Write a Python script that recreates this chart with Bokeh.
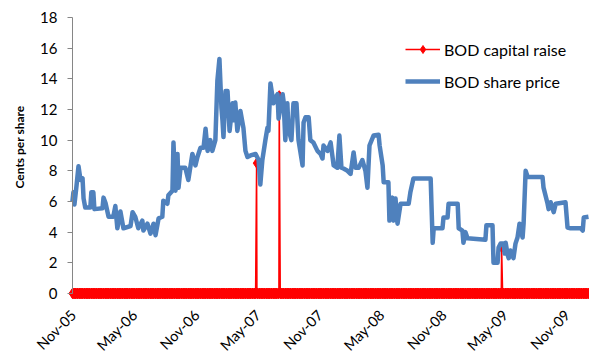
import pandas as pd
from math import pi
from bokeh.plotting import figure
from bokeh.models import Range1d, FixedTicker, Legend, LegendItem, Title, ColumnDataSource
from bokeh.core.properties import value
from bokeh.embed import file_html
from bokeh.resources import INLINE

# BOD share price (cents per share)
price_dates = [
    "2005-11-01", "2005-11-04", "2005-11-07", "2005-11-13", "2005-11-19", "2005-11-25",
    "2005-12-01", "2005-12-04", "2005-12-09", "2005-12-24", "2005-12-27", "2006-01-02",
    "2006-01-05", "2006-01-29", "2006-02-01", "2006-02-07", "2006-02-16", "2006-03-02",
    "2006-03-08", "2006-03-14", "2006-03-23", "2006-04-01", "2006-04-22", "2006-04-28",
    "2006-05-06", "2006-05-15", "2006-05-27", "2006-05-30", "2006-06-11", "2006-06-20",
    "2006-06-29", "2006-07-05", "2006-07-14", "2006-07-25", "2006-07-28", "2006-08-09",
    "2006-08-12", "2006-08-24", "2006-08-27", "2006-09-02", "2006-09-08", "2006-09-11",
    "2006-09-17", "2006-10-01", "2006-10-10", "2006-10-22", "2006-10-31", "2006-11-06",
    "2006-11-15", "2006-11-24", "2006-11-30", "2006-12-06", "2006-12-14", "2006-12-20",
    "2006-12-29", "2007-01-04", "2007-01-10", "2007-01-16", "2007-01-19", "2007-01-22",
    "2007-01-28", "2007-02-03", "2007-02-09", "2007-02-18", "2007-02-21", "2007-02-26",
    "2007-03-04", "2007-03-13", "2007-03-22", "2007-03-28", "2007-04-03", "2007-04-12",
    "2007-04-27", "2007-05-06", "2007-05-11", "2007-05-17", "2007-05-26", "2007-06-01",
    "2007-06-04", "2007-06-10", "2007-06-19", "2007-06-25", "2007-07-01", "2007-07-04",
    "2007-07-16", "2007-07-19", "2007-07-24", "2007-07-30", "2007-08-02", "2007-08-11",
    "2007-08-17", "2007-08-26", "2007-09-01", "2007-09-13", "2007-09-16", "2007-09-22",
    "2007-10-01", "2007-10-06", "2007-10-15", "2007-10-27", "2007-11-05", "2007-11-11",
    "2007-11-14", "2007-11-26", "2007-12-05", "2007-12-14", "2007-12-25", "2007-12-31",
    "2008-01-06", "2008-01-12", "2008-01-24", "2008-02-02", "2008-02-11", "2008-02-17",
    "2008-02-26", "2008-03-08", "2008-03-17", "2008-03-23", "2008-03-29", "2008-04-10",
    "2008-04-25", "2008-04-28", "2008-05-07", "2008-05-10", "2008-05-24", "2008-05-27",
    "2008-06-05", "2008-06-08", "2008-06-14", "2008-06-20", "2008-06-29", "2008-07-23",
    "2008-07-28", "2008-08-06", "2008-09-26", "2008-10-02", "2008-10-05", "2008-10-31",
    "2008-11-03", "2008-11-15", "2008-11-18", "2008-12-15", "2008-12-18", "2008-12-29",
    "2009-01-01", "2009-01-07", "2009-01-13", "2009-03-07", "2009-03-10", "2009-03-28",
    "2009-03-31", "2009-04-12", "2009-04-15", "2009-04-21", "2009-04-30", "2009-05-03",
    "2009-05-06", "2009-05-12", "2009-05-15", "2009-05-20", "2009-05-29", "2009-06-04",
    "2009-06-10", "2009-06-16", "2009-06-25", "2009-06-28", "2009-07-04", "2009-07-10",
    "2009-08-23", "2009-08-26", "2009-09-07", "2009-09-10", "2009-09-16", "2009-09-25",
    "2009-10-01", "2009-10-30", "2009-11-05", "2009-11-14", "2009-12-14", "2009-12-20",
    "2009-12-23", "2010-01-06",
]
price_values = [
    6.0, 6.6, 5.8, 7.0, 8.3, 7.4,
    7.5, 6.2, 5.6, 5.6, 6.6, 6.6,
    5.5, 5.55, 6.25, 5.9, 5.0, 5.0,
    5.7, 4.25, 5.35, 4.25, 4.4, 5.3,
    5.0, 4.25, 4.75, 4.1, 4.55, 3.9,
    4.55, 3.8, 4.9, 5.0, 6.05, 5.85,
    6.4, 6.7, 9.85, 6.7, 9.1, 6.9,
    8.2, 8.2, 7.4, 9.1, 8.35, 8.9,
    9.5, 9.5, 10.75, 9.3, 10.0, 9.3,
    10.0, 13.9, 15.3, 12.1, 11.3, 10.2,
    13.2, 13.2, 10.6, 12.4, 11.3, 12.45,
    10.6, 11.9, 10.8, 9.3, 8.9, 9.0,
    9.1, 8.7, 7.1, 8.7, 10.0, 10.8,
    10.6, 13.7, 12.4, 12.8, 13.0, 11.4,
    13.0, 12.5, 10.0, 12.4, 10.75, 10.0,
    12.4, 12.4, 10.0, 8.35, 11.15, 11.5,
    11.5, 10.0, 9.85, 9.3, 9.1, 8.8,
    9.65, 9.3, 9.85, 8.35, 8.2, 10.3,
    8.2, 8.15, 8.0, 7.8, 9.2, 8.2,
    8.2, 8.7, 8.0, 6.9, 9.65, 10.3,
    10.35, 9.65, 8.35, 7.25, 7.25, 4.75,
    6.25, 4.75, 6.2, 4.55, 5.85, 5.85,
    6.6, 7.5, 7.5, 3.3, 4.25, 4.25,
    4.95, 4.95, 5.85, 5.85, 4.25, 4.1,
    3.3, 4.0, 3.6, 3.5, 4.45, 4.45,
    2.0, 2.0, 3.0, 3.25, 3.25, 2.6,
    3.3, 2.5, 2.3, 2.8, 2.3, 3.25,
    3.65, 4.55, 3.65, 4.55, 8.0, 7.6,
    7.6, 6.9, 5.85, 5.5, 5.95, 5.3,
    5.85, 5.95, 4.3, 4.25, 4.25, 4.1,
    4.95, 5.0,
]

# BOD capital raise: zero on every trading day except the raise dates
raise_dates = ["2007-04-30", "2007-07-06", "2009-04-24"]
raise_values = [8.5, 12.9, 3.0]
series_start = "2005-11-01"
series_end = "2010-01-06"

tick_dates = ["2005-11-01", "2006-05-01", "2006-11-01", "2007-05-01", "2007-11-01",
              "2008-05-01", "2008-11-01", "2009-05-01", "2009-11-01"]
tick_labels = ["Nov-05", "May-06", "Nov-06", "May-07", "Nov-07",
               "May-08", "Nov-08", "May-09", "Nov-09"]
y_ticks = [0, 2, 4, 6, 8, 10, 12, 14, 16, 18]
y_axis_min, y_axis_max = 0, 18

# visible window (the frame also holds the y axis and the rotated date labels)
view_x_start, view_x_end = "2005-06-30", "2010-01-09"
FRAME_W, FRAME_H = 559, 356
PX_PER_UNIT = 281 / 18.33
TOP_PAD_PX = 17
view_y_end = y_axis_max + TOP_PAD_PX / PX_PER_UNIT
view_y_start = view_y_end - FRAME_H / PX_PER_UNIT

FONT = "Lato"
BLUE = "#4F81BD"
RED = "#FF0000"
AXIS_GREY = "#868686"

cap = pd.Series(0.0, index=pd.bdate_range(series_start, series_end))
for d, v in zip(raise_dates, raise_values):
    cap[pd.Timestamp(d)] = v
cap_src = ColumnDataSource(dict(x=cap.index, y=cap.values))
price_src = ColumnDataSource(dict(x=pd.to_datetime(price_dates), y=price_values))
tick_src = ColumnDataSource(dict(x=pd.to_datetime(tick_dates), text=tick_labels))

p = figure(
    x_axis_type="datetime",
    frame_width=FRAME_W, frame_height=FRAME_H,
    min_border_left=30, min_border_right=0, min_border_top=0, min_border_bottom=0,
    x_range=Range1d(start=pd.Timestamp(view_x_start), end=pd.Timestamp(view_x_end)),
    y_range=Range1d(start=view_y_start, end=view_y_end),
    output_backend="svg", toolbar_location=None,
)
p.outline_line_color = None
p.grid.visible = False
p.background_fill_color = "white"
p.border_fill_color = "white"

r_line = p.line("x", "y", source=cap_src, color=RED, line_width=1.5)
r_pts = p.scatter("x", "y", source=cap_src, marker="diamond", size=10,
                  fill_color=RED, line_color=RED)
b_line = p.line("x", "y", source=price_src, color=BLUE, line_width=4.5, line_join="round")

# x axis: date labels rotated 45 degrees, hanging below the y=0 baseline
p.xaxis.visible = False
p.text(x="x", y=y_axis_min, text="text", source=tick_src, angle=pi / 4,
       text_align="right", text_baseline="middle", x_offset=1, y_offset=19,
       text_font=value(FONT), text_font_size="14.5px", text_color="black")

# y axis pinned at the first date of the series
yax = p.yaxis[0]
yax.fixed_location = pd.Timestamp(series_start).value / 1e6
yax.bounds = (y_axis_min, y_axis_max)
yax.ticker = FixedTicker(ticks=y_ticks)
yax.axis_line_color = AXIS_GREY
yax.major_tick_line_color = AXIS_GREY
yax.minor_tick_line_color = None
yax.major_tick_out = 5
yax.major_tick_in = 0
yax.major_label_standoff = 10
yax.major_label_text_font = FONT
yax.major_label_text_font_size = "15px"
yax.major_label_text_color = "black"

ttl = Title(text="Cents per share", align="left", offset=168,
            text_font=FONT, text_font_style="bold", text_font_size="12px",
            text_color="black", standoff=7)
p.add_layout(ttl, "left")

legend = Legend(items=[
    LegendItem(label="BOD capital raise", renderers=[r_line, r_pts]),
    LegendItem(label="BOD share price", renderers=[b_line]),
], location=(375, 265))
legend.border_line_color = None
legend.background_fill_alpha = 0
legend.padding = 0
legend.margin = 0
legend.spacing = 12
legend.glyph_width = 35
legend.glyph_height = 20
legend.label_height = 20
legend.label_standoff = 4
legend.label_text_font = FONT
legend.label_text_font_size = "16px"
legend.label_text_color = "black"
p.add_layout(legend)

open("out.html", "w").write(file_html(p, INLINE))
